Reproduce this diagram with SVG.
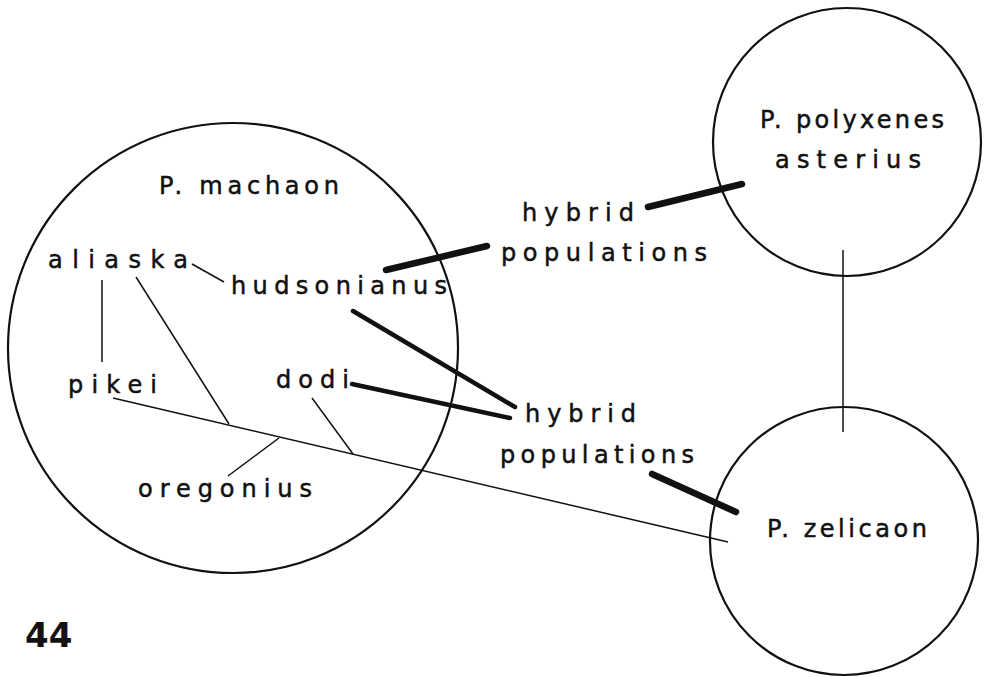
<svg xmlns="http://www.w3.org/2000/svg" width="985" height="677" viewBox="0 0 985 677">
<style>
.c{fill:none;stroke:#111;stroke-width:2.2}
.t{font-family:"DejaVu Sans","Liberation Sans",sans-serif;font-size:24px;fill:#111;stroke:#111;stroke-width:0.5}
.thin{stroke:#111;stroke-width:1.5;fill:none}
.thick{stroke:#111;stroke-width:6.5;fill:none;stroke-linecap:round}
.med{stroke:#111;stroke-width:4.5;fill:none;stroke-linecap:round}
</style>
<rect width="985" height="677" fill="#fff"/>
<g id="machaon">
<circle class="c" cx="233" cy="348" r="225"/>
<text class="t" x="159" y="194" textLength="180" lengthAdjust="spacing">P. machaon</text>
</g>
<g id="aliaska"><text class="t" x="48" y="268" textLength="140" lengthAdjust="spacing">aliaska</text></g>
<g id="hudsonianus"><text class="t" x="231" y="294" textLength="216" lengthAdjust="spacing">hudsonianus</text></g>
<g id="pikei"><text class="t" x="68" y="393" textLength="89" lengthAdjust="spacing">pikei</text></g>
<g id="dodi"><text class="t" x="276" y="388" textLength="73" lengthAdjust="spacing">dodi</text></g>
<g id="oregonius"><text class="t" x="138" y="497" textLength="174" lengthAdjust="spacing">oregonius</text></g>
<g id="polyxenes">
<circle class="c" cx="847" cy="142" r="134"/>
<text class="t" x="760" y="128" textLength="184" lengthAdjust="spacing">P. polyxenes</text>
<text class="t" x="775" y="168" textLength="146" lengthAdjust="spacing">asterius</text>
</g>
<g id="zelicaon">
<circle class="c" cx="844" cy="541" r="134"/>
<text class="t" x="767" y="537" textLength="160" lengthAdjust="spacing">P. zelicaon</text>
</g>
<g id="hybrid1">
<text class="t" x="522" y="221" textLength="112" lengthAdjust="spacing">hybrid</text>
<text class="t" x="501" y="261" textLength="206" lengthAdjust="spacing">populations</text>
</g>
<g id="hybrid2">
<text class="t" x="525" y="422" textLength="111" lengthAdjust="spacing">hybrid</text>
<text class="t" x="500" y="463" textLength="194" lengthAdjust="spacing">populations</text>
</g>
<g id="connectors">
<line class="thin" x1="192" y1="264" x2="224" y2="282"/>
<line class="thin" x1="102" y1="280" x2="102" y2="362"/>
<line class="thin" x1="136" y1="277" x2="229" y2="424"/>
<line class="thin" x1="113" y1="398" x2="728" y2="542"/>
<line class="thin" x1="228" y1="476" x2="279" y2="438"/>
<line class="thin" x1="312" y1="398" x2="353" y2="454"/>
<line class="thin" x1="843" y1="250" x2="843" y2="432"/>
<line class="thick" x1="386" y1="270" x2="487" y2="246"/>
<line class="thick" x1="648" y1="207" x2="742" y2="184"/>
<line class="med" x1="353" y1="311" x2="515" y2="407"/>
<line class="med" x1="352" y1="384" x2="510" y2="418"/>
<line class="thick" x1="652" y1="474" x2="736" y2="512"/>
</g>
<text x="25" y="647" style="font-family:'DejaVu Sans','Liberation Sans',sans-serif;font-size:34px;font-weight:bold;fill:#111">44</text>
</svg>
